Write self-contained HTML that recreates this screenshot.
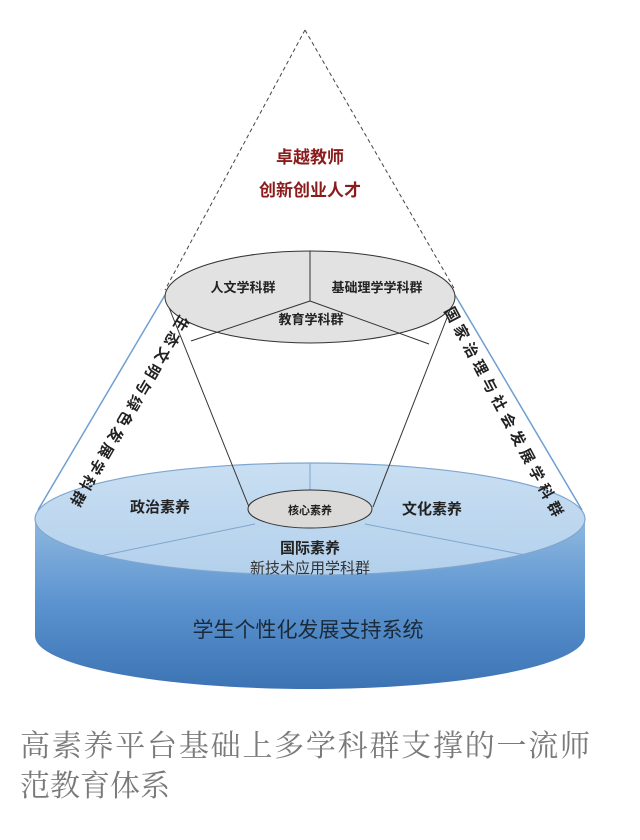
<!DOCTYPE html>
<html><head><meta charset="utf-8"><style>
html,body{margin:0;padding:0;background:#fff;width:640px;height:840px;overflow:hidden}
svg{display:block}
text{font-family:"Liberation Sans","Noto Sans CJK SC",sans-serif}
</style></head><body>
<svg width="640" height="840" viewBox="0 0 640 840">
<defs>
<linearGradient id="side" x1="0" y1="0" x2="0" y2="1">
<stop offset="0" stop-color="#8fb8e0"/><stop offset="0.5" stop-color="#5b93cf"/><stop offset="1" stop-color="#3c73b4"/>
</linearGradient>
<linearGradient id="top" x1="0" y1="0" x2="0" y2="1">
<stop offset="0" stop-color="#c9dff2"/><stop offset="1" stop-color="#b3d0ec"/>
</linearGradient>
</defs>
<path d="M35,519 L35,636 A275,53 0 0 0 585,636 L585,519 Z" fill="url(#side)"/>
<ellipse cx="310" cy="519" rx="275" ry="56" fill="url(#top)" stroke="#7fa6cf" stroke-width="1.2"/>
<line x1="310" y1="463" x2="310" y2="492" stroke="#7fa6cf" stroke-width="1"/>
<line x1="255" y1="524" x2="100" y2="556" stroke="#7fa6cf" stroke-width="1"/>
<line x1="365" y1="524" x2="530" y2="556" stroke="#7fa6cf" stroke-width="1"/>
<line x1="305" y1="30" x2="165" y2="290" stroke="#444" stroke-width="1" stroke-dasharray="4,3"/>
<line x1="305" y1="30" x2="455" y2="290" stroke="#444" stroke-width="1" stroke-dasharray="4,3"/>
<line x1="165" y1="295" x2="38" y2="510" stroke="#6f9fd2" stroke-width="1.5"/>
<line x1="455" y1="295" x2="582" y2="510" stroke="#6f9fd2" stroke-width="1.5"/>
<line x1="168" y1="305" x2="249" y2="507" stroke="#333" stroke-width="1"/>
<line x1="452" y1="305" x2="373" y2="507" stroke="#333" stroke-width="1"/>
<ellipse cx="310" cy="509" rx="62" ry="19" fill="#dcdad8" stroke="#333" stroke-width="1"/>
<text x="310" y="514" font-size="11" font-weight="bold" text-anchor="middle" fill="#222">核心素养</text>
<ellipse cx="310" cy="297" rx="145" ry="46" fill="#e2e2e2" stroke="#333" stroke-width="1"/>
<line x1="310" y1="251" x2="310" y2="301" stroke="#333"/>
<line x1="310" y1="301" x2="191" y2="341" stroke="#333"/>
<line x1="310" y1="301" x2="429" y2="344" stroke="#333"/>
<text x="243" y="292" font-size="13" font-weight="bold" text-anchor="middle" fill="#222">人文学科群</text>
<text x="377" y="292" font-size="13" font-weight="bold" text-anchor="middle" fill="#222">基础理学学科群</text>
<text x="311" y="324" font-size="13" font-weight="bold" text-anchor="middle" fill="#222">教育学科群</text>
<text x="310" y="163" font-size="17" font-weight="bold" text-anchor="middle" fill="#8b1c1c">卓越教师</text>
<text x="310" y="196" font-size="17" font-weight="bold" text-anchor="middle" fill="#8b1c1c">创新创业人才</text>
<text transform="translate(170,308) rotate(120.5)" x="0" y="-12" font-size="15" font-weight="bold" fill="#222" letter-spacing="3.5">生态文明与绿色发展学科群</text>
<text transform="translate(458,303) rotate(62)" x="0" y="16" font-size="15" font-weight="bold" fill="#222" letter-spacing="5">国家治理与社会发展学科群</text>
<text x="160" y="512" font-size="15" font-weight="bold" text-anchor="middle" fill="#222">政治素养</text>
<text x="432" y="514" font-size="15" font-weight="bold" text-anchor="middle" fill="#222">文化素养</text>
<text x="310" y="553" font-size="15" font-weight="bold" text-anchor="middle" fill="#222">国际素养</text>
<text x="310" y="573" font-size="15" text-anchor="middle" fill="#333">新技术应用学科群</text>
<text x="308" y="637" font-size="21" text-anchor="middle" fill="#1a2a3a">学生个性化发展支持系统</text>
<text x="20" y="756" font-size="30" fill="#7a7a7a" style="font-family:'Liberation Serif','Noto Serif CJK SC',serif" textLength="570">高素养平台基础上多学科群支撑的一流师</text>
<text x="20" y="796" font-size="30" fill="#7a7a7a" style="font-family:'Liberation Serif','Noto Serif CJK SC',serif">范教育体系</text>
</svg>
</body></html>
